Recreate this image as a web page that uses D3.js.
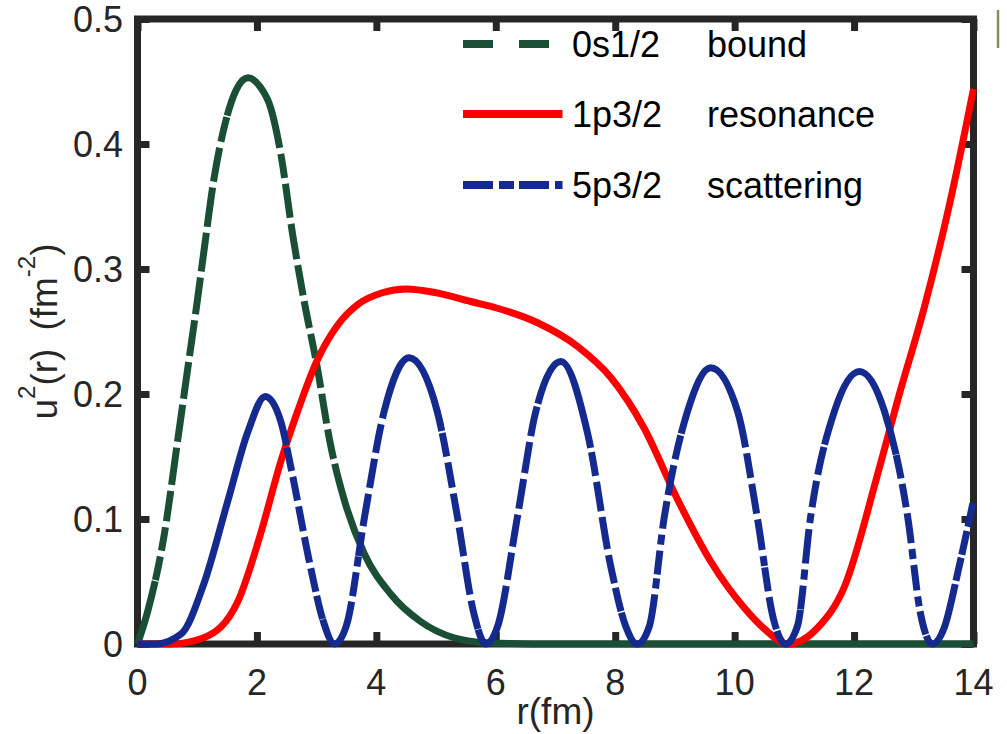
<!DOCTYPE html>
<html>
<head>
<meta charset="utf-8">
<script src="https://cdn.jsdelivr.net/npm/d3@7"></script>
<style>
  html, body { margin: 0; padding: 0; background: #ffffff; }
  svg { display: block; }
  text { font-family: "Liberation Sans", Arial, Helvetica, sans-serif; }
</style>
</head>
<body>
<svg id="chart" width="1007" height="734"></svg>
<script>
// ---------------- data ----------------
const xTicks = [0, 2, 4, 6, 8, 10, 12, 14];
const yTicks = [0, 0.1, 0.2, 0.3, 0.4, 0.5];
const yTickLabels = ["0", "0.1", "0.2", "0.3", "0.4", "0.5"];

const seriesNames = ["0s1/2", "1p3/2", "5p3/2"];
const seriesKinds = ["bound", "resonance", "scattering"];

// 0s1/2 bound
const rGreen = [0, 0.17, 0.45, 0.67, 0.84, 1.0, 1.12, 1.28, 1.45, 1.65, 1.85, 2.05, 2.23, 2.4, 2.6, 2.8, 3.0, 3.23, 3.47, 3.8, 4.24, 4.74, 5.3, 5.86, 7, 14];
const uGreen = [0, 0.026, 0.088, 0.162, 0.22, 0.274, 0.317, 0.372, 0.413, 0.443, 0.453, 0.446, 0.429, 0.392, 0.327, 0.272, 0.224, 0.16, 0.114, 0.072, 0.04, 0.018, 0.005, 0.001, 0, 0];

// 1p3/2 resonance
const rRed = [0, 0.56, 1.11, 1.68, 2.06, 2.4, 2.68, 3.0, 3.35, 3.7, 4.1, 4.5, 5.0, 5.58, 6.0, 6.7, 7.37, 7.93, 8.48, 9.04, 9.6, 10.16, 10.5, 10.9, 11.39, 11.84, 12.39, 12.73, 13.18, 13.6, 14];
const uRed = [0, 0, 0.005, 0.034, 0.088, 0.146, 0.186, 0.226, 0.255, 0.272, 0.281, 0.284, 0.281, 0.274, 0.269, 0.257, 0.238, 0.213, 0.173, 0.116, 0.066, 0.029, 0.012, 0, 0.013, 0.046, 0.135, 0.195, 0.27, 0.352, 0.444];

// 5p3/2 scattering
const rBlue = [0, 0.3, 0.73, 1.11, 1.51, 1.85, 2.14, 2.4, 2.57, 2.9, 3.1, 3.3, 3.5, 3.8, 4.13, 4.55, 5.02, 5.36, 5.63, 5.83, 6.03, 6.36, 6.67, 7.09, 7.54, 7.93, 8.17, 8.37, 8.57, 8.82, 9.21, 9.6, 10.05, 10.38, 10.65, 10.85, 11.05, 11.27, 11.67, 12.09, 12.51, 12.9, 13.11, 13.31, 13.51, 13.75, 14];
const uBlue = [0, 0, 0.008, 0.048, 0.114, 0.17, 0.198, 0.178, 0.141, 0.061, 0.02, 0, 0.015, 0.101, 0.186, 0.229, 0.186, 0.101, 0.025, 0, 0.014, 0.101, 0.186, 0.226, 0.168, 0.061, 0.015, 0, 0.014, 0.101, 0.186, 0.221, 0.186, 0.101, 0.02, 0, 0.014, 0.101, 0.186, 0.218, 0.186, 0.101, 0.025, 0, 0.013, 0.06, 0.115];

// ---------------- layout ----------------
const svg = d3.select("#chart");
const L = 137.5, R = 973.5, T = 19, B = 644;
const x = d3.scaleLinear().domain([0, 14]).range([L, R]);
const y = d3.scaleLinear().domain([0, 0.5]).range([B, T]);

const axisColor = "#262626";
const spineW = 7;

// frame
svg.append("rect")
  .attr("x", L).attr("y", T).attr("width", R - L).attr("height", B - T)
  .attr("fill", "none").attr("stroke", axisColor).attr("stroke-width", spineW);

// ticks (inward, all four sides) via d3 axes
const tickLen = 12;
const gxB = svg.append("g").attr("transform", `translate(0,${B})`)
  .call(d3.axisTop(x).tickValues(xTicks).tickSize(tickLen).tickFormat(""));
const gxT = svg.append("g").attr("transform", `translate(0,${T})`)
  .call(d3.axisBottom(x).tickValues(xTicks).tickSize(tickLen).tickFormat(""));
const gyL = svg.append("g").attr("transform", `translate(${L},0)`)
  .call(d3.axisRight(y).tickValues(yTicks).tickSize(tickLen).tickFormat(""));
const gyR = svg.append("g").attr("transform", `translate(${R},0)`)
  .call(d3.axisLeft(y).tickValues(yTicks).tickSize(tickLen).tickFormat(""));
[gxB, gxT, gyL, gyR].forEach(g => {
  g.select(".domain").remove();
  g.selectAll(".tick line").attr("stroke", axisColor).attr("stroke-width", 7);
});

// tick labels
svg.append("g").selectAll("text").data(xTicks).join("text")
  .attr("x", d => x(d)).attr("y", 695)
  .attr("text-anchor", "middle").attr("font-size", 36).attr("fill", axisColor)
  .text(d => d);
svg.append("g").selectAll("text").data(yTicks).join("text")
  .attr("x", 123).attr("y", d => y(d)).attr("dy", "0.36em")
  .attr("text-anchor", "end").attr("font-size", 36).attr("fill", axisColor)
  .text((d, i) => yTickLabels[i]);

// axis labels
svg.append("text").attr("x", (L + R) / 2).attr("y", 724)
  .attr("text-anchor", "middle").attr("font-size", 37).attr("fill", axisColor)
  .text("r(fm)");

const yl = svg.append("text")
  .attr("transform", `translate(57,${(T + B) / 2}) rotate(-90)`)
  .attr("text-anchor", "middle").attr("font-size", 37).attr("fill", axisColor);
yl.append("tspan").text("u");
yl.append("tspan").attr("font-size", 24).attr("dy", -22).text("2");
yl.append("tspan").attr("dy", 22).text("(r)");
yl.append("tspan").attr("dx", 18).text("(fm");
yl.append("tspan").attr("font-size", 24).attr("dy", -22).text("-2");
yl.append("tspan").attr("dy", 22).text(")");

// ---------------- curves ----------------
const green = "#1b4f35", red = "#ff0000", blue = "#152a8e";
const line = d3.line().x(d => x(d[0])).y(d => y(d[1])).curve(d3.curveMonotoneX);

// dash pattern that restarts on every 0.1 fm piece of the curve (as the original renderer did)
function restartDash(path, pattern) {
  const node = path.node();
  const total = node.getTotalLength();
  const cellPx = x(0.1) - x(0);
  const period = d3.sum(pattern);
  const step = 0.5;
  const runs = [];
  let curVis = true, runLen = 0, lastCell = null, cellStart = 0;
  for (let s = 0; s <= total; s += step) {
    const p = node.getPointAtLength(s);
    const cell = Math.floor((p.x - x(0)) / cellPx);
    if (cell !== lastCell) { lastCell = cell; cellStart = s; }
    const local = (s - cellStart) % period;
    let acc = 0, vis = true;
    for (let i = 0; i < pattern.length; i++) {
      acc += pattern[i];
      if (local < acc) { vis = (i % 2 === 0); break; }
    }
    if (vis === curVis) runLen += step;
    else { runs.push(runLen); curVis = vis; runLen = step; }
  }
  runs.push(runLen);
  if (runs.length % 2 === 1) runs.push(100000);
  path.attr("stroke-dasharray", runs.map(v => v.toFixed(2)).join(","));
}

const gLines = svg.append("g").attr("fill", "none").attr("stroke-linecap", "butt").attr("stroke-linejoin", "round");

const pG = gLines.append("path").datum(d3.zip(rGreen, uGreen))
  .attr("d", line).attr("stroke", green).attr("stroke-width", 7);
restartDash(pG, [24, 6]);

const pR = gLines.append("path").datum(d3.zip(rRed, uRed))
  .attr("d", line).attr("stroke", red).attr("stroke-width", 7);

const pB = gLines.append("path").datum(d3.zip(rBlue, uBlue))
  .attr("d", line).attr("stroke", blue).attr("stroke-width", 7);
restartDash(pB, [24, 6, 10, 6]);

// ---------------- legend ----------------
const legX0 = 463, legX1 = 562.5, legText1 = 572, legText2 = 707;
const legRows = [44, 114, 185];
const legColors = [green, red, blue];
const legDash = ["30,26", null, "30,6,15,5"];
const lg = svg.append("g");
legRows.forEach((ry, i) => {
  const ln = lg.append("line").attr("x1", legX0).attr("x2", legX1).attr("y1", ry).attr("y2", ry)
    .attr("stroke", legColors[i]).attr("stroke-width", 8);
  if (legDash[i]) ln.attr("stroke-dasharray", legDash[i]);
  lg.append("text").attr("x", legText1).attr("y", ry + 13).attr("font-size", 36).attr("fill", "#000")
    .text(seriesNames[i]);
  lg.append("text").attr("x", legText2).attr("y", ry + 13).attr("font-size", 36).attr("fill", "#000")
    .text(seriesKinds[i]);
});

// small stray mark at the top right edge of the original picture
svg.append("line").attr("x1", 998).attr("x2", 998).attr("y1", 10).attr("y2", 48)
  .attr("stroke", "#8a8a62").attr("stroke-width", 2.5);
</script>
</body>
</html>
